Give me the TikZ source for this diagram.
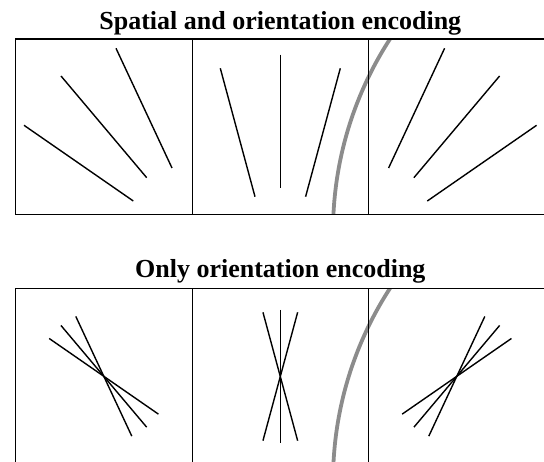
\documentclass[tikz,border=0pt]{standalone}
\usepackage{fontspec}
\setmainfont{Liberation Serif}
\definecolor{curvegray}{RGB}{140,140,140}
\newcommand\midline[3]{\draw[seg] (#1) ++({-(#2)},{-(#3)}) -- ++({2*(#2)},{2*(#3)});}
\begin{document}
\begin{tikzpicture}[x=1pt,y=-1pt,
  seg/.style={line width=1.4pt,black},
  frame/.style={line width=1.5pt,black},
  arcline/.style={line width=3.8pt,curvegray},
  title/.style={font=\fontsize{26}{30}\selectfont\bfseries,anchor=base,inner sep=0pt}]
\useasboundingbox (0,0) rectangle (544,462);
\clip (0,0) rectangle (544,462);

% titles
\node[title] (t1) at (280.3,29.5) {Spatial and orientation encoding};
\node[title] (t2) at (280.3,278) {Only orientation encoding};

% gray curves
\begin{scope}
  \clip (15.3,39) rectangle (545.3,214.3);
  \draw[arcline] (688,232) circle[radius=355pt];
\end{scope}
\begin{scope}
  \clip (15.3,288.3) rectangle (545.3,463.6);
  \draw[arcline] (688,481.3) circle[radius=355pt];
\end{scope}

% frames
\draw[frame] (15.3,39) rectangle (545.3,214.3);
\draw[frame] (192.3,39) -- (192.3,214.3);
\draw[frame] (368.3,39) -- (368.3,214.3);
\draw[frame] (15.3,288.3) rectangle (545.3,463.6);
\draw[frame] (192.3,288.3) -- (192.3,463.6);
\draw[frame] (368.3,288.3) -- (368.3,463.6);

% top panel: spatial and orientation
\midline{78.65,163.15}{54.65}{37.85}
\midline{103.85,126.85}{42.85}{50.85}
\midline{144,108.15}{28}{59.85}
\midline{237.65,132.5}{17.35}{64.2}
\midline{280.3,121.2}{0}{66.5}
\midline{322.95,132.5}{-17.35}{64.2}
\midline{416.6,108.15}{-28}{59.85}
\midline{456.75,126.85}{-42.85}{50.85}
\midline{481.95,163.15}{-54.65}{37.85}

% bottom panel: orientation only
\coordinate (c1) at (103.8,376.3);
\coordinate (c2) at (280.3,376.5);
\coordinate (c3) at (456.8,376.3);
\midline{c1}{54.65}{37.85}
\midline{c1}{42.85}{50.85}
\midline{c1}{28}{59.85}
\midline{c2}{17.35}{64.2}
\midline{c2}{0}{66.5}
\midline{c2}{-17.35}{64.2}
\midline{c3}{-28}{59.85}
\midline{c3}{-42.85}{50.85}
\midline{c3}{-54.65}{37.85}
\end{tikzpicture}
\end{document}
